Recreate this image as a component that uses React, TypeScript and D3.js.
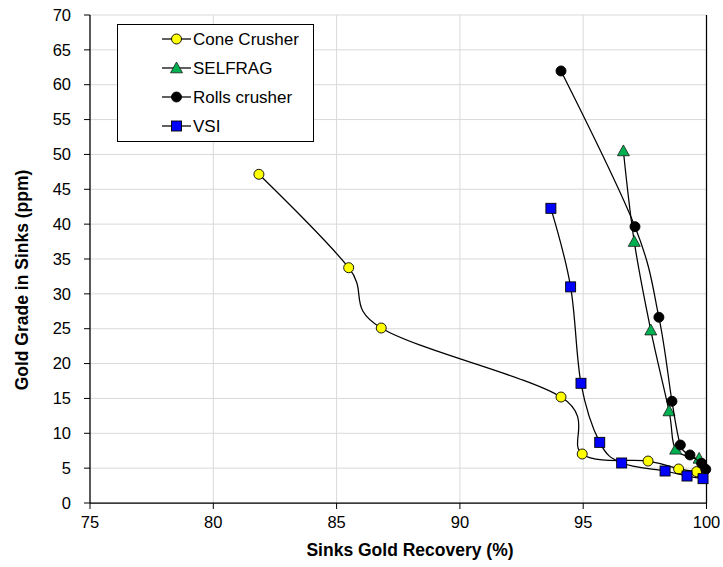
import React from "react";
import * as d3 from "d3";

// Sinks gold recovery (%) and gold grade in sinks (ppm) for each comminution method
const coneRecovery = [81.85, 85.49, 86.81, 94.1, 94.96, 97.63, 98.87, 99.6];
const coneGrade = [47.15, 33.75, 25.1, 15.2, 7.03, 6.02, 4.88, 4.5];

const selfragRecovery = [96.63, 97.07, 97.74, 98.48, 98.75, 99.7];
const selfragGrade = [50.5, 37.5, 24.8, 13.2, 7.7, 6.4];

const rollsRecovery = [94.1, 97.1, 98.07, 98.6, 98.94, 99.33, 99.8, 99.97];
const rollsGrade = [61.97, 39.64, 26.64, 14.59, 8.32, 6.89, 5.7, 4.83];

const vsiRecovery = [93.69, 94.49, 94.91, 95.67, 96.56, 98.32, 99.21, 99.86];
const vsiGrade = [42.27, 31.0, 17.17, 8.7, 5.74, 4.59, 3.87, 3.49];

const seriesNames = ["Cone Crusher", "SELFRAG", "Rolls crusher", "VSI"];
const xTicks = [75, 80, 85, 90, 95, 100];
const yTicks = [0, 5, 10, 15, 20, 25, 30, 35, 40, 45, 50, 55, 60, 65, 70];

type Marker = "circle" | "triangle" | "square";
const seriesStyle: { fill: string; marker: Marker }[] = [
  { fill: "#ffff00", marker: "circle" },
  { fill: "#00b050", marker: "triangle" },
  { fill: "#000000", marker: "circle" },
  { fill: "#0000ff", marker: "square" },
];

const seriesData: [number, number][][] = [
  coneRecovery.map((r, i) => [r, coneGrade[i]]),
  selfragRecovery.map((r, i) => [r, selfragGrade[i]]),
  rollsRecovery.map((r, i) => [r, rollsGrade[i]]),
  vsiRecovery.map((r, i) => [r, vsiGrade[i]]),
];

const W = 723;
const H = 567;
const left = 90;
const right = 706.5;
const top = 15;
const bottom = 503;

const FONT = "'Liberation Sans', Arial, sans-serif";

function MarkerShape({ kind, fill, x, y }: { kind: Marker; fill: string; x: number; y: number }) {
  if (kind === "circle") {
    return <circle cx={x} cy={y} r={5} fill={fill} stroke="#000" strokeWidth={0.9} />;
  }
  if (kind === "square") {
    return <rect x={x - 5} y={y - 5} width={10} height={10} fill={fill} stroke="#000" strokeWidth={0.9} />;
  }
  const s = 6;
  return (
    <path
      d={`M${x},${y - s} L${x + s},${y + s * 0.8} L${x - s},${y + s * 0.8} Z`}
      fill={fill}
      stroke="#1a1a1a"
      strokeWidth={0.8}
    />
  );
}

export default function App() {
  const x = d3.scaleLinear().domain([75, 100]).range([left, right]);
  const y = d3.scaleLinear().domain([0, 70]).range([bottom, top]);

  const line = d3
    .line<[number, number]>()
    .x((d) => x(d[0]))
    .y((d) => y(d[1]))
    .curve(d3.curveCardinal.tension(0));

  return (
    <svg
      width={W}
      height={H}
      style={{ position: "absolute", left: 0, top: 0, background: "#fff" }}
      fontFamily={FONT}
    >
      {/* gridlines */}
      {yTicks.map((t) => (
        <line key={"gy" + t} x1={left} x2={right} y1={y(t)} y2={y(t)} stroke="#d9d9d9" strokeWidth={1} />
      ))}
      {xTicks.map((t) => (
        <line key={"gx" + t} x1={x(t)} x2={x(t)} y1={top} y2={bottom} stroke="#d9d9d9" strokeWidth={1} />
      ))}

      {/* axes */}
      <line x1={left} x2={left} y1={top} y2={bottom} stroke="#000" strokeWidth={1.25} />
      <line x1={left} x2={right} y1={bottom} y2={bottom} stroke="#000" strokeWidth={1.25} />
      <line x1={right} x2={right} y1={top} y2={bottom} stroke="#000" strokeWidth={1.25} />
      {yTicks.map((t) => (
        <g key={"ty" + t}>
          <line x1={left - 6} x2={left} y1={y(t)} y2={y(t)} stroke="#000" strokeWidth={1} />
          <text x={71} y={y(t)} dy="0.35em" textAnchor="end" fontSize={16.5} fill="#000">
            {t}
          </text>
        </g>
      ))}
      {xTicks.map((t) => (
        <g key={"tx" + t}>
          <line x1={x(t)} x2={x(t)} y1={bottom} y2={bottom + 6} stroke="#000" strokeWidth={1} />
          <text x={x(t)} y={528} textAnchor="middle" fontSize={16.5} fill="#000">
            {t}
          </text>
        </g>
      ))}

      {/* axis titles */}
      <text x={410} y={556} textAnchor="middle" fontSize={17.5} fontWeight="bold" fill="#000">
        Sinks Gold Recovery (%)
      </text>
      <text
        transform={`translate(28,280) rotate(-90)`}
        textAnchor="middle"
        fontSize={17.5}
        fontWeight="bold"
        fill="#000"
      >
        Gold Grade in Sinks (ppm)
      </text>

      {/* series */}
      {seriesData.map((data, i) => (
        <g key={"s" + i}>
          <path d={line(data) || ""} fill="none" stroke="#000" strokeWidth={1.25} />
          {data.map((d, j) => (
            <MarkerShape key={j} kind={seriesStyle[i].marker} fill={seriesStyle[i].fill} x={x(d[0])} y={y(d[1])} />
          ))}
        </g>
      ))}

      {/* legend */}
      <rect x={117.5} y={24.5} width={196} height={117} fill="#fff" stroke="#000" strokeWidth={1} />
      {seriesNames.map((name, i) => {
        const ly = 39 + i * 29;
        return (
          <g key={"l" + i}>
            <line x1={162} x2={191} y1={ly} y2={ly} stroke="#000" strokeWidth={1.25} />
            <MarkerShape kind={seriesStyle[i].marker} fill={seriesStyle[i].fill} x={176.5} y={ly} />
            <text x={193} y={ly} dy="0.35em" fontSize={17} fill="#000">
              {name}
            </text>
          </g>
        );
      })}
    </svg>
  );
}
